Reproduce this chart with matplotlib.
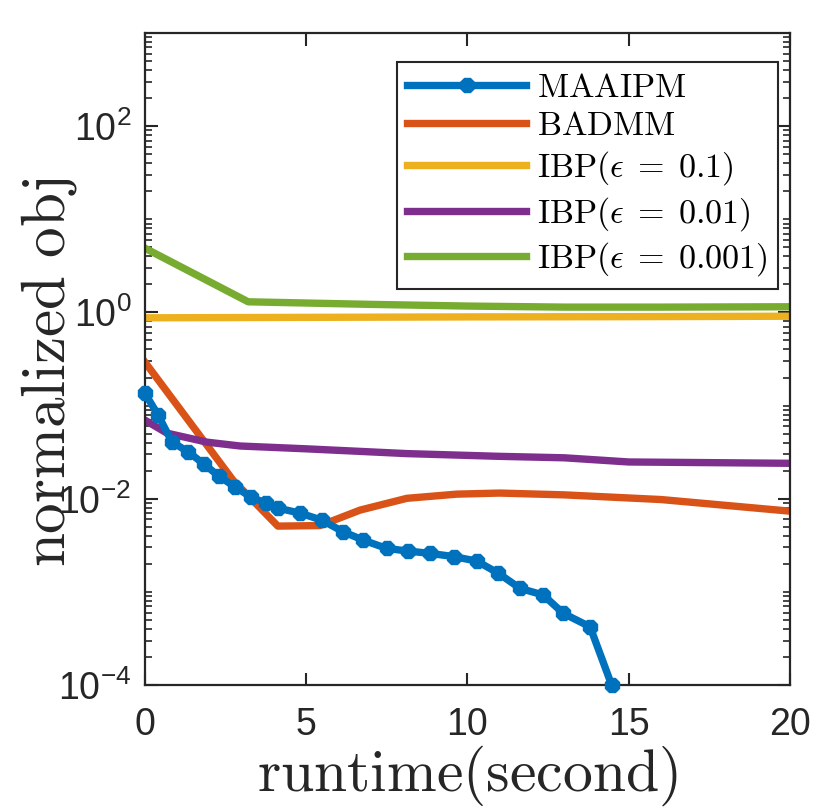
import matplotlib
matplotlib.use("Agg")
import matplotlib.pyplot as plt
from matplotlib.ticker import FixedLocator, FuncFormatter, NullFormatter
import numpy as np

plt.rcParams['font.family'] = ['Liberation Sans', 'DejaVu Sans']
plt.rcParams['mathtext.fontset'] = 'cm'

# ---- data ----
maaipm_t = [0.0, 0.41, 0.83, 1.34, 1.83, 2.29, 2.79, 3.29, 3.75, 4.12, 4.81, 5.48,
            6.15, 6.77, 7.49, 8.16, 8.84, 9.58, 10.29, 10.95, 11.63, 12.35, 12.97, 13.80, 14.47]
maaipm_v = [0.135, 0.0788, 0.0409, 0.0318, 0.0235, 0.0175, 0.0134, 0.0104, 0.00897, 0.00793,
            0.0070, 0.00589, 0.00441, 0.00359, 0.00293, 0.00274, 0.00259, 0.00239, 0.00214,
            0.00159, 0.00109, 0.000925, 0.000588, 0.000422, 0.0001]

badmm_t = [0.0, 2.73, 4.12, 5.43, 6.67, 8.12, 9.67, 11.0, 13.0, 16.0, 20.0]
badmm_v = [0.292, 0.0158, 0.00508, 0.00515, 0.00755, 0.0101, 0.0112, 0.0115, 0.0110, 0.0098, 0.00735]

ibp1_t = [0.0, 5.0, 10.0, 15.0, 20.0]
ibp1_v = [0.875, 0.885, 0.895, 0.90, 0.91]

ibp2_t = [0.0, 0.68, 1.92, 2.95, 5.02, 8.12, 11.0, 13.0, 15.0, 20.0]
ibp2_v = [0.0697, 0.0506, 0.0405, 0.0368, 0.0343, 0.0305, 0.0285, 0.0275, 0.0248, 0.0240]

ibp3_t = [0.0, 3.2, 7.0, 10.0, 13.0, 16.0, 20.0]
ibp3_v = [4.89, 1.30, 1.22, 1.17, 1.14, 1.14, 1.15]

labels = [r'$\mathrm{MAAIPM}$', r'$\mathrm{BADMM}$',
          r'$\mathrm{IBP}(\epsilon\;=\;0.1)$',
          r'$\mathrm{IBP}(\epsilon\;=\;0.01)$',
          r'$\mathrm{IBP}(\epsilon\;=\;0.001)$']
colors = ['#0072BD', '#D95319', '#EDB120', '#7E2F8E', '#77AC30']

xticks = [0, 5, 10, 15, 20]
yticks = [1e-4, 1e-2, 1e0, 1e2]

# ---- figure ----
fig = plt.figure(figsize=(8.3, 8.1), dpi=100)
ax = fig.add_axes([0.1747, 0.1543, 0.7771, 0.8050])

lw = 5.3
ax.plot(maaipm_t, maaipm_v, color=colors[0], lw=lw, marker='8', ms=11.5,
        label=labels[0], zorder=5, clip_on=False)
ax.plot(badmm_t, badmm_v, color=colors[1], lw=lw, label=labels[1])
ax.plot(ibp1_t, ibp1_v, color=colors[2], lw=lw, label=labels[2])
ax.plot(ibp2_t, ibp2_v, color=colors[3], lw=lw, label=labels[3])
ax.plot(ibp3_t, ibp3_v, color=colors[4], lw=lw, label=labels[4])

ax.set_yscale('log')
ax.set_xlim(0, 20)
ax.set_ylim(1e-4, 1e3)
ax.xaxis.set_major_locator(FixedLocator(xticks))
ax.yaxis.set_major_locator(FixedLocator(yticks))
minors = []
for e in range(-4, 3):
    for m in range(1, 10):
        v = m * 10.0 ** e
        if v not in yticks and v <= 1e3:
            minors.append(v)
minors.append(1e3)
ax.yaxis.set_minor_locator(FixedLocator(minors))
ax.yaxis.set_minor_formatter(NullFormatter())
ax.yaxis.set_major_formatter(FuncFormatter(lambda v, p: r'$\mathdefault{10^{%d}}$' % int(round(np.log10(v)))))

ax.tick_params(which='both', direction='in', top=True, right=True, colors='#262626',
               labelcolor='#262626')
ax.tick_params(which='major', length=9, width=1.5, labelsize=27, pad=10)
ax.tick_params(which='minor', length=5, width=1.2)
ax.xaxis.set_tick_params(pad=16)
for s in ax.spines.values():
    s.set_linewidth(1.6)
    s.set_color('#262626')

ax.set_xlabel(r'$\mathrm{runtime(second)}$', fontsize=43, color='#262626', labelpad=0)
ax.set_ylabel(r'$\mathrm{normalized\ obj}$', fontsize=44, color='#262626')
ax.yaxis.set_label_coords(-0.102, 0.48)

leg = ax.legend(loc='upper right', bbox_to_anchor=(0.981, 0.955), fontsize=24.5,
                frameon=True, fancybox=False, handlelength=3.5, handletextpad=0.3,
                borderpad=0.3, labelspacing=0.22, borderaxespad=0)
leg.get_frame().set_edgecolor('#262626')
leg.get_frame().set_linewidth(1.5)
leg.get_frame().set_alpha(1)

fig.savefig('out.png', dpi=100)
